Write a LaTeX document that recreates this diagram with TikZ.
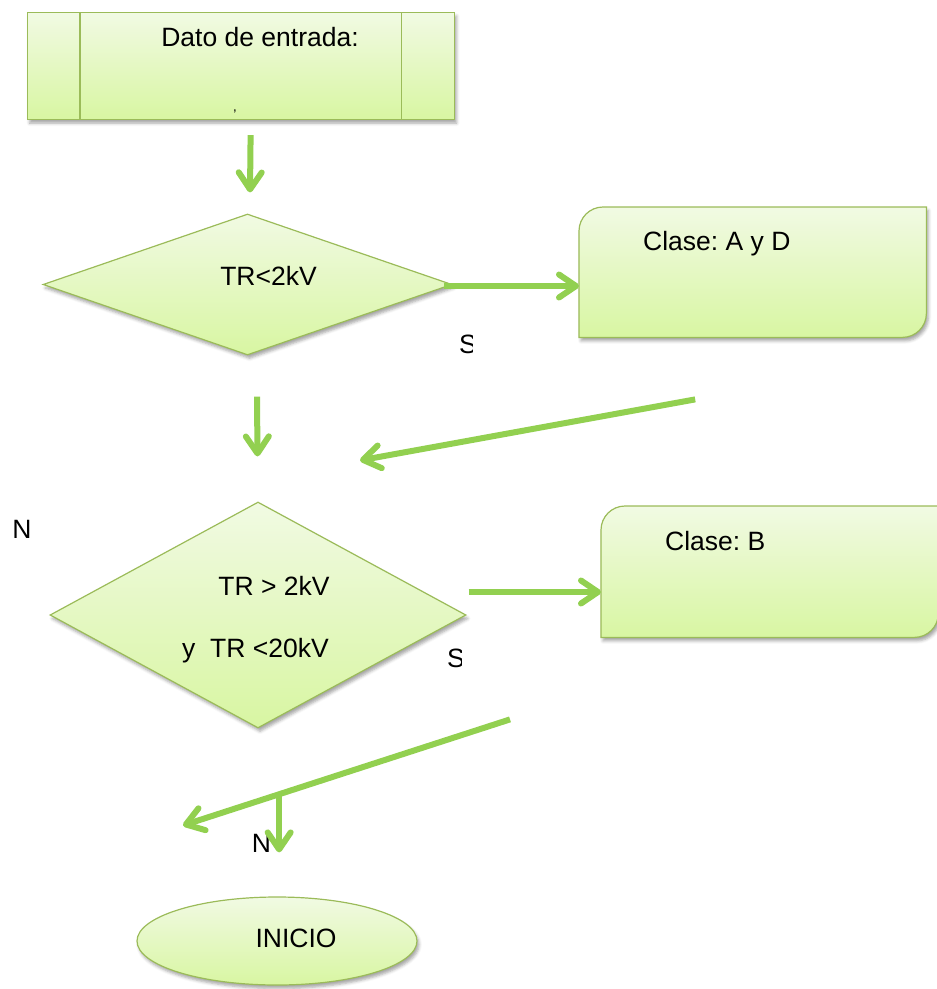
\documentclass[tikz,border=0pt]{standalone}
\usepackage{fontspec}
\setmainfont{Liberation Sans}
\usetikzlibrary{shapes.geometric,arrows.meta,calc,shadows.blur}

\definecolor{boxtop}{HTML}{F1FAE3}
\definecolor{boxbottom}{HTML}{D8F6A2}
\definecolor{boxedge}{HTML}{9BBB59}
\definecolor{flowgreen}{HTML}{92D050}

\tikzset{
  softshadow/.style={blur shadow={shadow xshift=2pt, shadow yshift=-3.5pt,
      shadow blur radius=3pt, shadow opacity=35}},
  greenfill/.style={draw=boxedge, line width=1.2pt, top color=boxtop,
      bottom color=boxbottom, softshadow},
  flowbox/.style={greenfill, rectangle, inner sep=0pt},
  decision/.style={greenfill, diamond, inner sep=0pt},
  terminal/.style={greenfill, ellipse, inner sep=0pt},
  holder/.style={rectangle, inner sep=0pt},
  txt/.style={inner sep=0pt, font=\fontsize{26.5}{32}\selectfont},
  flowarrow/.style={draw=flowgreen, line width=6pt,
      -{Straight Barb[length=17pt,width=23pt,round]}},
}

% outline of a box with its top-left and bottom-right corners rounded
\newcommand{\diagbox}[2]{%
  \path[greenfill] (#1.south west) -- ([yshift=-#2]#1.north west)
    .. controls ([yshift=-0.448*#2]#1.north west) and ([xshift=0.448*#2]#1.north west)
    .. ([xshift=#2]#1.north west)
    -- (#1.north east) -- ([yshift=#2]#1.south east)
    .. controls ([yshift=0.448*#2]#1.south east) and ([xshift=-0.448*#2]#1.south east)
    .. ([xshift=-#2]#1.south east) -- cycle;}

\begin{document}
\frenchspacing
\begin{tikzpicture}[x=1pt,y=-1pt]
\useasboundingbox (0,0) rectangle (937,989);

% input box with side bars
\node[flowbox, minimum width=427, minimum height=107, anchor=north west] (entrada) at (27,12) {};
\draw[draw=boxedge, line width=1.2pt] ([xshift=53]entrada.north west) -- ([xshift=53]entrada.south west);
\draw[draw=boxedge, line width=1.2pt] ([xshift=-54]entrada.north east) -- ([xshift=-54]entrada.south east);
\node[txt, anchor=base] (entradatxt) at (260,46) {Dato de entrada:};
\node[txt, anchor=base, font=\fontsize{14}{16}\selectfont] (tick) at (235,119) {'};

% first decision
\node[decision, minimum width=409, minimum height=141] (d1) at (247.5,284.5) {};
\node[txt, anchor=base] (d1txt) at (268.5,285) {TR<2kV};

% class A y D box
\node[holder, minimum width=347, minimum height=130, anchor=north west] (ad) at (579,207) {};
\diagbox{ad}{24}
\node[txt, anchor=base west] (adtxt) at (643,250) {Clase: A y D};

% second decision
\node[decision, minimum width=416, minimum height=226] (d2) at (258,615) {};
\node[txt, anchor=base] (d2txta) at (274,595) {TR > 2kV};
\node[txt, anchor=base west] (d2txtb) at (182,657) {y\ \ TR <20kV};

% class B box
\node[holder, minimum width=337, minimum height=131, anchor=north west] (b) at (601,506) {};
\diagbox{b}{24}
\node[txt, anchor=base west] (btxt) at (665,550) {Clase: B};

% terminal
\node[terminal, minimum width=280, minimum height=88] (inicio) at (277,941) {};
\node[txt, anchor=base] (iniciotxt) at (296,947) {INICIO};

% branch labels
\node[txt, anchor=base] (n1) at (22,538) {N};
\begin{scope}
  \clip (440,320) rectangle (472,365);
  \node[txt, anchor=base west] (s1) at (459,353) {S};
\end{scope}
\begin{scope}
  \clip (430,640) rectangle (461,680);
  \node[txt, anchor=base west] (s2) at (447,667) {S};
\end{scope}
\node[txt, anchor=base] (n2) at (261.5,852) {N};

% connectors
\draw[flowarrow] ($(entrada.south)+(9.5,15)$) -- ($(d1.north)+(2.5,-21)$);
\draw[flowarrow] ($(d1.east)+(-9,1.5)$) coordinate (d1out) -- (d1out -| ad.west);
\draw[flowarrow] ($(ad.south)+(-57.5,62)$) coordinate (adout) -- ($(d2.north)+(102,-41)$);
\draw[flowarrow] ($(d1.south)+(9.5,41)$) -- ($(d2.north)+(-0.5,-45)$);
\draw[flowarrow] ($(d2.east)+(2,-23)$) coordinate (d2out) -- (d2out -| b.west);
\coordinate (l2a) at ($(b.south west)+(-91,82)$);
\coordinate (l2b) at ($(inicio.north)+(-94,-71)$);
\draw[flowarrow] (l2a) -- (l2b);
\coordinate (l2m) at ($(l2a)!0.706!(l2b)$);
\draw[flowarrow] (l2m) -- ($(l2m |- inicio.north)+(0,-44)$);

\end{tikzpicture}
\end{document}
